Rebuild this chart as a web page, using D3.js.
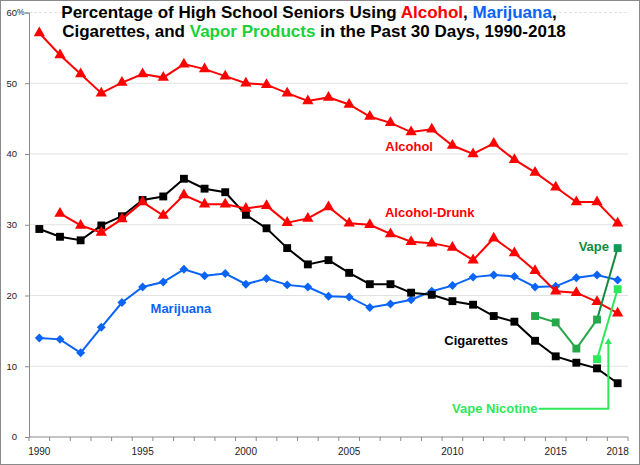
<!DOCTYPE html>
<html>
<head>
<meta charset="utf-8">
<script src="https://cdn.jsdelivr.net/npm/d3@7"></script>
<style>
  body { margin: 0; background: #fff; }
  text { font-family: "Liberation Sans", Arial, sans-serif; }
</style>
</head>
<body>
<div id="chart"></div>
<script>
// data (percent, past 30 days, 12th grade)
const years = d3.range(1990, 2019);
const alcohol = [57.1, 54.0, 51.3, 48.6, 50.1, 51.3, 50.8, 52.7, 52.0, 51.0, 50.0, 49.8, 48.6, 47.5, 48.0,
  47.0, 45.3, 44.4, 43.1, 43.5, 41.2, 40.0, 41.5, 39.2, 37.4, 35.3, 33.2, 33.2, 30.2];
const alcoholDrunk = [null, 31.6, 29.9, 28.9, 30.8, 33.2, 31.3, 34.2, 32.9, 32.9, 32.3, 32.7, 30.3, 30.9, 32.5,
  30.2, 30.0, 28.7, 27.6, 27.4, 26.8, 25.0, 28.1, 26.0, 23.5, 20.6, 20.4, 19.1, 17.5];
const cigarettes = [29.4, 28.3, 27.8, 29.9, 31.2, 33.5, 34.0, 36.5, 35.1, 34.6, 31.4, 29.5, 26.7, 24.4, 25.0,
  23.2, 21.6, 21.6, 20.4, 20.1, 19.2, 18.7, 17.1, 16.3, 13.6, 11.4, 10.5, 9.7, 7.6];
const marijuana = [14.0, 13.8, 11.9, 15.5, 19.0, 21.2, 21.9, 23.7, 22.8, 23.1, 21.6, 22.4, 21.5, 21.2, 19.9,
  19.8, 18.3, 18.8, 19.4, 20.6, 21.4, 22.6, 22.9, 22.7, 21.2, 21.3, 22.5, 22.9, 22.2];
const vapeYears = [2014, 2015, 2016, 2017, 2018];
const vape = [17.1, 16.2, 12.5, 16.6, 26.7];
const vapeNicYears = [2017, 2018];
const vapeNicotine = [11.0, 20.9];
const yTicks = [0, 10, 20, 30, 40, 50, 60];
const xLabels = [1990, 1995, 2000, 2005, 2010, 2015, 2018];

// create svg canvas
const canvWidth = 640, canvHeight = 465;
const svg = d3.select("#chart").append("svg")
    .attr("width", canvWidth)
    .attr("height", canvHeight);

svg.append("rect")
    .attr("x", 0.5).attr("y", 0.5)
    .attr("width", canvWidth - 1).attr("height", canvHeight - 1)
    .attr("fill", "#fff")
    .attr("stroke", "#8a8a8a");

const plot = {left: 29, right: 628, top: 12.5, bottom: 437};

const x = d3.scaleBand()
    .domain(years)
    .range([plot.left, plot.right])
    .padding(0);
const xc = yr => x(yr) + x.bandwidth() / 2;

const y = d3.scaleLinear()
    .domain([0, 60])
    .range([plot.bottom, plot.top]);

// gridlines
svg.append("g")
  .selectAll("line")
  .data(yTicks.filter(d => d > 0))
  .join("line")
    .attr("x1", plot.left).attr("x2", plot.right)
    .attr("y1", d => y(d)).attr("y2", d => y(d))
    .attr("stroke", "#e2e2e2")
    .attr("stroke-dasharray", d => d === 60 ? "3,2" : null);

// y axis
const yAxis = svg.append("g")
    .attr("transform", `translate(${plot.left},0)`)
    .call(d3.axisLeft(y).tickValues(yTicks).tickSize(4).tickFormat(""));
yAxis.select(".domain").attr("stroke", "#8a8a8a");
yAxis.selectAll(".tick line").attr("stroke", "#8a8a8a");

svg.append("g")
  .selectAll("text")
  .data(yTicks)
  .join("text")
    .attr("x", 17)
    .attr("y", d => y(d))
    .attr("dy", "0.35em")
    .attr("text-anchor", "end")
    .attr("font-size", 9.5)
    .attr("fill", "#222")
    .text(d => d);
svg.append("text")
    .attr("x", 17)
    .attr("y", y(60))
    .attr("dy", "0.35em")
    .attr("font-size", 8.5)
    .attr("fill", "#222")
    .text("%");

// x axis: ticks on the band edges
const xAxis = svg.append("g")
    .attr("transform", `translate(0,${plot.bottom})`);
xAxis.append("line")
    .attr("x1", plot.left).attr("x2", plot.right)
    .attr("stroke", "#8a8a8a");
xAxis.selectAll("line.tk")
  .data(years.concat([null]))
  .join("line")
    .attr("class", "tk")
    .attr("x1", d => d === null ? plot.right : x(d))
    .attr("x2", d => d === null ? plot.right : x(d))
    .attr("y1", 0).attr("y2", 4)
    .attr("stroke", "#8a8a8a");
xAxis.selectAll("text")
  .data(xLabels)
  .join("text")
    .attr("x", d => xc(d))
    .attr("y", 18)
    .attr("text-anchor", "middle")
    .attr("font-size", 10)
    .attr("fill", "#222")
    .text(d => d);

// series drawing
const line = d3.line()
    .defined(d => d[1] !== null)
    .x(d => xc(d[0]))
    .y(d => y(d[1]));

function drawSeries(yrs, vals, color, symbol, size, rotate) {
  const pts = yrs.map((yr, i) => [yr, vals[i]]);
  svg.append("path")
      .datum(pts)
      .attr("fill", "none")
      .attr("stroke", color)
      .attr("stroke-width", 2)
      .attr("d", line);
  svg.append("g")
    .selectAll("path")
    .data(pts.filter(d => d[1] !== null))
    .join("path")
      .attr("transform", d => `translate(${xc(d[0])},${y(d[1])}) rotate(${rotate || 0})`)
      .attr("d", d3.symbol().type(symbol).size(size))
      .attr("fill", color);
}

drawSeries(years, marijuana, "#0a64f5", d3.symbolSquare, 40, 45);
drawSeries(years, cigarettes, "#000", d3.symbolSquare, 62);
drawSeries(years, alcoholDrunk, "#ff0000", d3.symbolTriangle, 55);
drawSeries(years, alcohol, "#ff0000", d3.symbolTriangle, 55);

// vape: 2014-2017 in green, jump to 2018 darker
const vapePts = vapeYears.map((yr, i) => [yr, vape[i]]);
svg.append("path")
    .datum(vapePts.slice(0, 4))
    .attr("fill", "none").attr("stroke", "#26a84a").attr("stroke-width", 2)
    .attr("d", line);
svg.append("path")
    .datum(vapePts.slice(3))
    .attr("fill", "none").attr("stroke", "#128a3c").attr("stroke-width", 2)
    .attr("d", line);
svg.append("g")
  .selectAll("path")
  .data(vapePts)
  .join("path")
    .attr("transform", d => `translate(${xc(d[0])},${y(d[1])})`)
    .attr("d", d3.symbol().type(d3.symbolSquare).size(62))
    .attr("fill", d => d[0] === 2018 ? "#129a58" : "#26a84a");

drawSeries(vapeNicYears, vapeNicotine, "#2ee85a", d3.symbolSquare, 62);

// arrow from the "Vape Nicotine" label up to the 2017-2018 values
const arrowX = x(2018) + 1;
svg.append("path")
    .attr("d", d3.line()([[xc(2012) + 45, y(4)], [arrowX, y(4)], [arrowX, y(14) + 5]]))
    .attr("fill", "none")
    .attr("stroke", "#2ee85a")
    .attr("stroke-width", 2);
svg.append("path")
    .attr("d", d3.line()([[arrowX - 3.5, y(14) + 6], [arrowX, y(14)], [arrowX + 3.5, y(14) + 6]]) + "Z")
    .attr("fill", "#2ee85a");

// series labels
const labels = [
  {text: "Alcohol", yr: 2008, v: 41.1, color: "#ff0000", anchor: "middle", dx: -2},
  {text: "Alcohol-Drunk", yr: 2009, v: 31.8, color: "#ff0000", anchor: "middle", dx: -2},
  {text: "Marijuana", yr: 1997, v: 18.2, color: "#0a64f5", anchor: "middle", dx: -3},
  {text: "Cigarettes", yr: 2011, v: 13.6, color: "#000", anchor: "middle", dx: 3},
  {text: "Vape", yr: 2017, v: 26.9, color: "#128a3c", anchor: "end", dx: 12},
  {text: "Vape Nicotine", yr: 2012, v: 4.0, color: "#2ee85a", anchor: "middle", dx: 1}
];
svg.append("g")
  .selectAll("text")
  .data(labels)
  .join("text")
    .attr("x", d => xc(d.yr) + d.dx)
    .attr("y", d => y(d.v))
    .attr("dy", "0.35em")
    .attr("text-anchor", d => d.anchor)
    .attr("font-size", 13)
    .attr("font-weight", "bold")
    .attr("fill", d => d.color)
    .text(d => d.text);

// title
const title = svg.append("g")
    .attr("font-size", 17)
    .attr("font-weight", "bold")
    .attr("text-anchor", "middle");
const t1 = title.append("text").attr("x", 309).attr("y", 18);
t1.append("tspan").text("Percentage of High School Seniors Using ");
t1.append("tspan").attr("fill", "#ff0000").text("Alcohol");
t1.append("tspan").text(", ");
t1.append("tspan").attr("fill", "#0a64f5").text("Marijuana");
t1.append("tspan").text(",");
const t2 = title.append("text").attr("x", 314).attr("y", 37);
t2.append("tspan").text("Cigarettes, and ");
t2.append("tspan").attr("fill", "#19d13c").text("Vapor Products");
t2.append("tspan").text(" in the Past 30 Days, 1990-2018");
</script>
</body>
</html>
